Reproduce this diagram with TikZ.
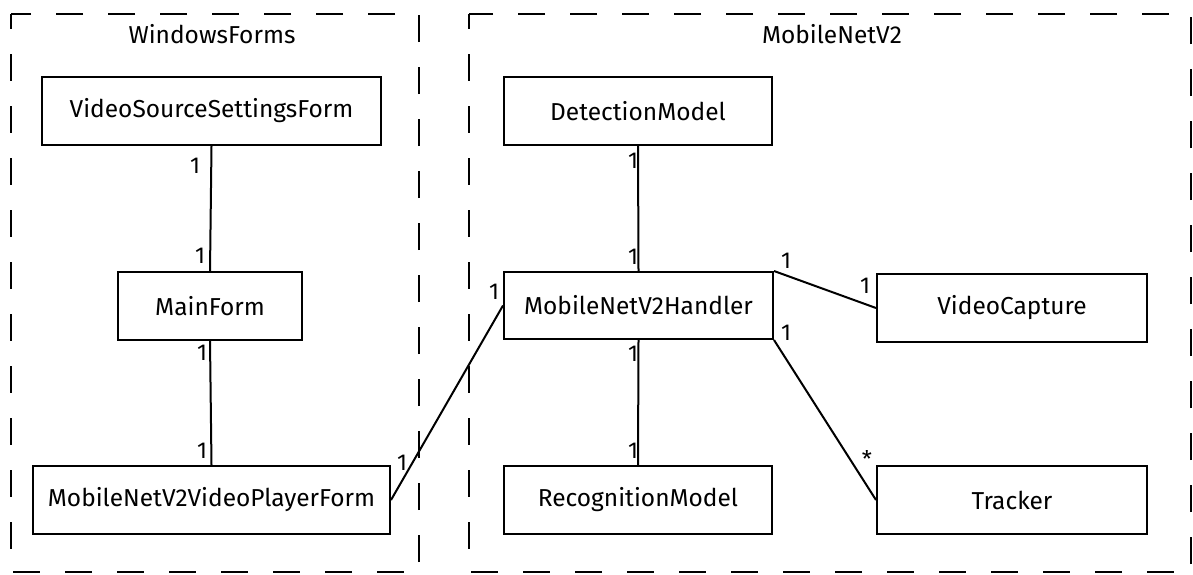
\documentclass[tikz,border=0pt]{standalone}
\usepackage{fontspec}
\setmainfont{Fira Sans}
\begin{document}
\begin{tikzpicture}[x=1pt,y=-1pt,
  cls/.style={draw,line width=2pt,rectangle,inner sep=0pt,font=\fontsize{24.5}{28}\selectfont},
  pkg/.style={draw,line width=2.6pt,dash pattern=on 27pt off 25pt,dash phase=12pt},
  pkgtitle/.style={font=\fontsize{24.5}{28}\selectfont},
  assoc/.style={line width=2pt},
  mult/.style={font=\fontsize{23}{26}\selectfont,inner sep=0pt}]
\useasboundingbox (0,0) rectangle (1193,574);
\fill[white] (0,0) rectangle (1193,574);
% packages
\draw[pkg] (11,14) rectangle (419,572);
\draw[pkg] (469,14) rectangle (1191,572);
\node[pkgtitle] (t1) at (212,34) {WindowsForms};
\node[pkgtitle] (t2) at (832,34) {MobileNetV2};
% classes
\node[cls,minimum width=339pt,minimum height=68pt] (vssf) at (211.5,111) {VideoSourceSettingsForm};
\node[cls,minimum width=184pt,minimum height=68pt] (main) at (210,306) {MainForm};
\node[cls,minimum width=357pt,minimum height=68pt] (vpf) at (211.5,500) {MobileNetV2VideoPlayerForm};
\node[cls,minimum width=268pt,minimum height=68pt] (det) at (638,111) {DetectionModel};
\node[cls,minimum width=269pt,minimum height=67pt] (hdl) at (638.5,305.5) {MobileNetV2Handler};
\node[cls,minimum width=270pt,minimum height=68pt] (vc) at (1012,308) {VideoCapture};
\node[cls,minimum width=268pt,minimum height=68pt] (rec) at (638,500) {RecognitionModel};
\node[cls,minimum width=270pt,minimum height=68pt] (trk) at (1012,500) {Tracker};
% connectors
\draw[assoc] (vssf.south) -- (main.north);
\draw[assoc] (main.south) -- (vpf.north);
\draw[assoc] (vpf.east) -- (hdl.west);
\draw[assoc] (det.south) -- (hdl.north);
\draw[assoc] (hdl.south) -- (rec.north);
\draw[assoc] (hdl.north east) -- (vc.west);
\draw[assoc] (hdl.south east) -- (trk.west);
% multiplicities
\node[mult] (m1) at (195,166) {1};
\node[mult] (m2) at (200,256) {1};
\node[mult] (m3) at (202,353) {1};
\node[mult] (m4) at (202,451) {1};
\node[mult] (m5) at (402,463) {1};
\node[mult] (m6) at (494,292) {1};
\node[mult] (m7) at (633,161) {1};
\node[mult] (m8) at (633,257) {1};
\node[mult] (m9) at (633,354) {1};
\node[mult] (m10) at (633,451) {1};
\node[mult] (m11) at (786,261) {1};
\node[mult] (m12) at (865,286) {1};
\node[mult] (m13) at (786,333) {1};
\node[mult] (m14) at (867,459) {*};
\end{tikzpicture}
\end{document}
